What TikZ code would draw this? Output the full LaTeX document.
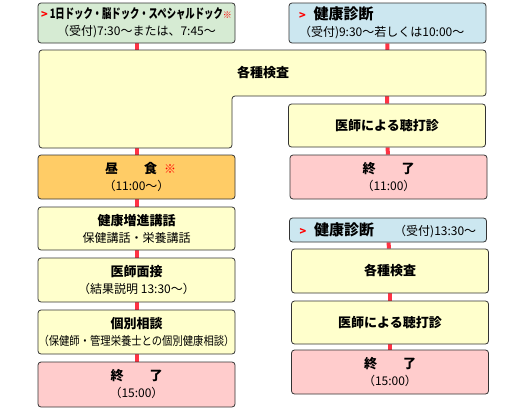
\documentclass[tikz,border=0pt]{standalone}
\usepackage{fontspec}
\setmainfont{Noto Sans CJK JP}
\usetikzlibrary{positioning,backgrounds}
\definecolor{dockgreen}{HTML}{D6EBD3}
\definecolor{shinblue}{HTML}{CCE7F0}
\definecolor{stepyellow}{HTML}{FFFFCC}
\definecolor{lunchorange}{HTML}{FFCC66}
\definecolor{endpink}{HTML}{FFCCCC}
\definecolor{linkred}{HTML}{FF3344}
\definecolor{edgegray}{HTML}{333333}
\tikzstyle{stepbox} = [rectangle, rounded corners=3pt, draw=edgegray, line width=0.8pt, fill=stepyellow, minimum width=197pt, minimum height=44pt, inner sep=0pt, align=center, font=\fontsize{12}{17}\selectfont]
\tikzstyle{headbox} = [stepbox, align=left, text width=177pt, inner xsep=10pt]
\tikzstyle{link} = [line width=4pt, linkred]
\newcommand{\hd}[1]{{\fontsize{13}{17}\selectfont\bfseries #1}}
\newcommand{\chev}{\textcolor{red}{\fontsize{11}{10}\selectfont\bfseries >}}

\begin{document}
\begin{tikzpicture}[x=1pt,y=-1pt]
	\useasboundingbox (0,0) rectangle (530,410);

	%% morning: dock (left) and check-up (right)
	\node[stepbox, fill=dockgreen, minimum height=40pt] (dock) at (136.5,23)
	  {\chev\,\scalebox{0.72}[1]{\fontsize{13}{17}\selectfont\bfseries 1日ドック・脳ドック・スペシャルドック}\textcolor{red}{\fontsize{9}{9}\selectfont ※}\\
	   （受付)7:30～または、7:45～};
	\node[headbox, fill=shinblue, minimum height=40pt] (shin1) at (387.5,23)
	  {\chev\ \ {\fontsize{15}{17}\selectfont\bfseries 健康診断}\\
	   （受付)9:30～若しくは10:00～};

	%% the common exam box, cut on the lower right
	\draw[draw=edgegray, line width=0.8pt, fill=stepyellow, rounded corners=3pt]
	  (39,50) -- (486,50) -- (486,96) -- (232,96) -- (232,148) -- (39,148) -- cycle;
	\node (kensa1) at (263,73) {\hd{各種検査}};

	\node[stepbox, minimum height=43pt] (ishi1) at (387,125.5) {\hd{医師による聴打診}};

	%% left column
	\node[stepbox, fill=lunchorange] (lunch) at (136.5,177)
	  {\hspace{8pt}\hd{昼　　食}\hspace{7pt}\textcolor{red}{※}\\（11:00～）};
	\node[stepbox, minimum height=43pt] (kenko) at (136.5,228.5)
	  {\hd{健康増進講話}\\保健講話・栄養講話};
	\node[stepbox] (mensetsu) at (136.5,280)
	  {\hd{医師面接}\\（結果説明 13:30～）};
	\node[stepbox] (soudan) at (136.5,332)
	  {\hd{個別相談}\\\scalebox{0.86}[1]{（保健師・管理栄養士との個別健康相談）}};
	\node[stepbox, fill=endpink, minimum height=45pt] (end2) at (136.5,384.5)
	  {\hd{終　　了}\\（15:00）};

	%% right column
	\node[stepbox, fill=endpink] (end1) at (388.5,177)
	  {\hd{終　　了}\\（11:00）};
	\node[headbox, fill=shinblue, minimum height=24pt] (shin2) at (388,230)
	  {\chev\ \ {\fontsize{15}{17}\selectfont\bfseries 健康診断}\hspace{20pt}（受付)13:30～};
	\node[stepbox] (kensa2) at (390,271) {\hd{各種検査}};
	\node[stepbox, minimum height=43pt] (ishi2) at (390,322.5) {\hd{医師による聴打診}};
	\node[stepbox, fill=endpink] (end3) at (390,372)
	  {\hd{終　　了}\\（15:00）};

	%% red links behind the boxes
	\begin{scope}[on background layer]
	\draw[link] (dock) -- (lunch);
	\draw[link] (lunch) -- (kenko);
	\draw[link] (kenko) -- (mensetsu);
	\draw[link] (mensetsu) -- (soudan);
	\draw[link] (soudan) -- (end2);
	\draw[link] (shin1) -- (ishi1);
	\draw[link] (ishi1) -- (end1);
	\draw[link] (shin2) -- (kensa2);
	\draw[link] (kensa2) -- (ishi2);
	\draw[link] (ishi2) -- (end3);
	\end{scope}
\end{tikzpicture}
\end{document}
